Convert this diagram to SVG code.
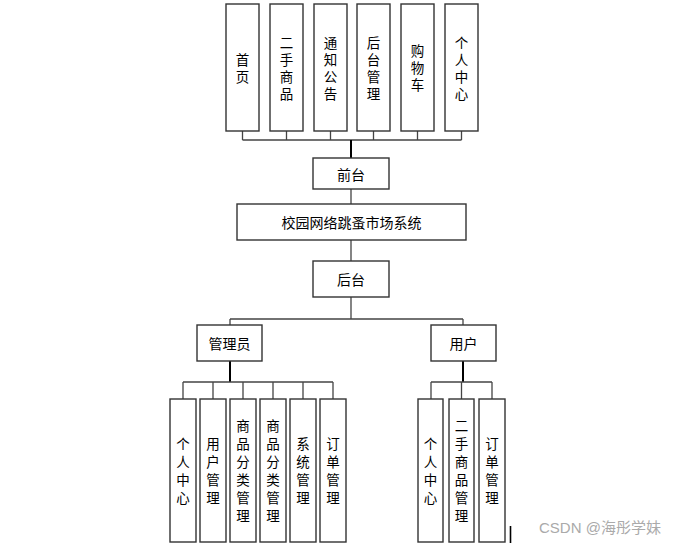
<svg xmlns="http://www.w3.org/2000/svg" width="691" height="545" viewBox="0 0 691 545">
<style>
.b{fill:#fff;stroke:#333;stroke-width:1.4}
.t{font-family:"Noto Sans CJK SC","Noto Sans",sans-serif;font-size:14px;fill:#000;text-anchor:middle;dominant-baseline:central}
.s{font-family:"Liberation Sans","Noto Sans CJK SC",sans-serif;font-size:13.5px}
.c{fill:none;stroke:#444;stroke-width:1.3}
.k{fill:none;stroke:#000;stroke-width:2}
</style>
<rect width="691" height="545" fill="#fff"/>
<g id="connectors">
<path class="c" d="M242.5 131V140M286.5 131V140M330.5 131V140M373.5 131V140M417.5 131V140M461.5 131V140M242.5 140H461.5"/>
<path class="k" d="M351 140V158"/>
<path class="c" d="M351 189V204M351 240V261M351 297V319M230 319H463M230 319V325M463 319V325"/>
<path class="k" d="M230 361V382M463 361V382"/>
<path class="c" d="M183 382H333M183 382V399M213 382V399M243 382V399M273 382V399M303 382V399M333 382V399"/>
<path class="c" d="M431 382H492M431 382V399M461.5 382V399M492 382V399"/>
</g>
<g id="n1"><rect class="b" x="226" y="4" width="33" height="127"/><text class="t s"><tspan x="242.5" y="59.5">首</tspan><tspan x="242.5" y="76.5">页</tspan></text></g>
<g id="n2"><rect class="b" x="270" y="4" width="33" height="127"/><text class="t s"><tspan x="286.5" y="42.5">二</tspan><tspan x="286.5" y="59.5">手</tspan><tspan x="286.5" y="76.5">商</tspan><tspan x="286.5" y="93.5">品</tspan></text></g>
<g id="n3"><rect class="b" x="314" y="4" width="33" height="127"/><text class="t s"><tspan x="330.5" y="42.5">通</tspan><tspan x="330.5" y="59.5">知</tspan><tspan x="330.5" y="76.5">公</tspan><tspan x="330.5" y="93.5">告</tspan></text></g>
<g id="n4"><rect class="b" x="357" y="4" width="33" height="127"/><text class="t s"><tspan x="373.5" y="42.5">后</tspan><tspan x="373.5" y="59.5">台</tspan><tspan x="373.5" y="76.5">管</tspan><tspan x="373.5" y="93.5">理</tspan></text></g>
<g id="n5"><rect class="b" x="401" y="4" width="33" height="127"/><text class="t s"><tspan x="417.5" y="51">购</tspan><tspan x="417.5" y="68">物</tspan><tspan x="417.5" y="85">车</tspan></text></g>
<g id="n6"><rect class="b" x="445" y="4" width="33" height="127"/><text class="t s"><tspan x="461.5" y="42.5">个</tspan><tspan x="461.5" y="59.5">人</tspan><tspan x="461.5" y="76.5">中</tspan><tspan x="461.5" y="93.5">心</tspan></text></g>
<g id="qiantai"><rect class="b" x="313" y="158" width="76" height="31"/><text class="t" x="351" y="173.5">前台</text></g>
<g id="system"><rect class="b" x="237" y="204" width="229" height="36"/><text class="t" x="351.5" y="222">校园网络跳蚤市场系统</text></g>
<g id="houtai"><rect class="b" x="313" y="261" width="76" height="36"/><text class="t" x="351" y="279">后台</text></g>
<g id="admin"><rect class="b" x="197" y="325" width="65" height="36"/><text class="t" x="229.5" y="343">管理员</text></g>
<g id="user"><rect class="b" x="431" y="325" width="65" height="36"/><text class="t" x="463.5" y="343">用户</text></g>
<g id="a1"><rect class="b" x="170" y="399" width="26" height="143"/><text class="t s"><tspan x="183" y="443.5">个</tspan><tspan x="183" y="461.5">人</tspan><tspan x="183" y="479.5">中</tspan><tspan x="183" y="497.5">心</tspan></text></g>
<g id="a2"><rect class="b" x="200" y="399" width="26" height="143"/><text class="t s"><tspan x="213" y="443.5">用</tspan><tspan x="213" y="461.5">户</tspan><tspan x="213" y="479.5">管</tspan><tspan x="213" y="497.5">理</tspan></text></g>
<g id="a3"><rect class="b" x="230" y="399" width="26" height="143"/><text class="t s"><tspan x="243" y="425.5">商</tspan><tspan x="243" y="443.5">品</tspan><tspan x="243" y="461.5">分</tspan><tspan x="243" y="479.5">类</tspan><tspan x="243" y="497.5">管</tspan><tspan x="243" y="515.5">理</tspan></text></g>
<g id="a4"><rect class="b" x="260" y="399" width="26" height="143"/><text class="t s"><tspan x="273" y="425.5">商</tspan><tspan x="273" y="443.5">品</tspan><tspan x="273" y="461.5">分</tspan><tspan x="273" y="479.5">类</tspan><tspan x="273" y="497.5">管</tspan><tspan x="273" y="515.5">理</tspan></text></g>
<g id="a5"><rect class="b" x="290" y="399" width="26" height="143"/><text class="t s"><tspan x="303" y="443.5">系</tspan><tspan x="303" y="461.5">统</tspan><tspan x="303" y="479.5">管</tspan><tspan x="303" y="497.5">理</tspan></text></g>
<g id="a6"><rect class="b" x="320" y="399" width="26" height="143"/><text class="t s"><tspan x="333" y="443.5">订</tspan><tspan x="333" y="461.5">单</tspan><tspan x="333" y="479.5">管</tspan><tspan x="333" y="497.5">理</tspan></text></g>
<g id="u1"><rect class="b" x="418" y="399" width="25" height="143"/><text class="t s"><tspan x="430.5" y="443.5">个</tspan><tspan x="430.5" y="461.5">人</tspan><tspan x="430.5" y="479.5">中</tspan><tspan x="430.5" y="497.5">心</tspan></text></g>
<g id="u2"><rect class="b" x="449" y="399" width="25" height="143"/><text class="t s"><tspan x="461.5" y="425.5">二</tspan><tspan x="461.5" y="443.5">手</tspan><tspan x="461.5" y="461.5">商</tspan><tspan x="461.5" y="479.5">品</tspan><tspan x="461.5" y="497.5">管</tspan><tspan x="461.5" y="515.5">理</tspan></text></g>
<g id="u3"><rect class="b" x="479" y="399" width="26" height="143"/><text class="t s"><tspan x="492" y="443.5">订</tspan><tspan x="492" y="461.5">单</tspan><tspan x="492" y="479.5">管</tspan><tspan x="492" y="497.5">理</tspan></text></g>
<line x1="510.5" y1="526" x2="510.5" y2="543" stroke="#000" stroke-width="1.6"/>
<text x="539" y="533" style="font-family:'Liberation Sans','Noto Sans CJK SC',sans-serif;font-size:15px;fill:#aaa">CSDN @海彤学妹</text>
</svg>
